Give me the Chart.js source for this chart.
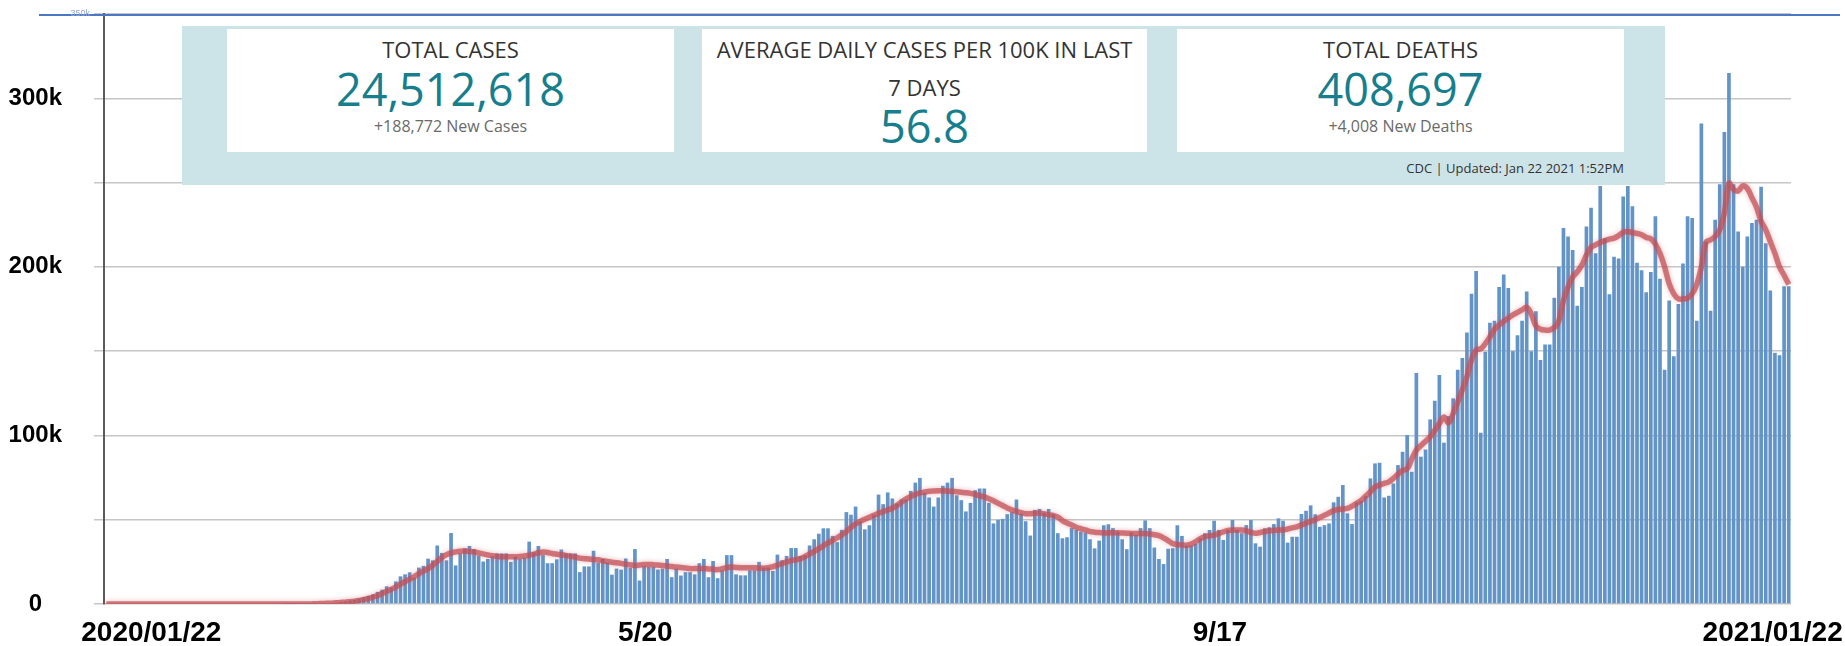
<!DOCTYPE html>
<html>
<head>
<meta charset="utf-8">
<script src="https://cdn.jsdelivr.net/npm/chart.js@4.4.1/dist/chart.umd.min.js"></script>
<style>
  html, body { margin: 0; padding: 0; background: #fff; }
  #wrap { position: relative; width: 1845px; height: 646px; overflow: hidden; font-family: "Open Sans", sans-serif; }
  #chart { position: absolute; left: 0; top: 0; }
  .panel { position: absolute; left: 182px; top: 26px; width: 1483px; height: 159px; background: #cce4e8; }
  .box { position: absolute; top: 3px; height: 123px; background: #fff; }
  .box div { position: absolute; left: 0; right: 0; text-align: center; white-space: nowrap; }
  .title { font-size: 22px; color: #333; line-height: 30px; top: 5px; }
  .big { font-size: 45px; color: #167e8c; line-height: 56px; top: 32px; }
  .sub { font-size: 16px; color: #6a6a6a; line-height: 22px; top: 86px; }
  .days { font-size: 22px; color: #333; line-height: 30px; top: 43px; }
  .big2 { font-size: 45px; color: #167e8c; line-height: 56px; top: 69px; }
  .stamp { position: absolute; right: 41px; top: 133px; font-size: 13px; line-height: 18px; color: #333; }
</style>
</head>
<body>
<div id="wrap">
  <canvas id="chart" width="1845" height="646"></canvas>
  <div class="panel">
    <div class="box" style="left:45px;width:447px">
      <div class="title">TOTAL CASES</div>
      <div class="big">24,512,618</div>
      <div class="sub">+188,772 New Cases</div>
    </div>
    <div class="box" style="left:520px;width:445px">
      <div class="title">AVERAGE DAILY CASES PER 100K IN LAST</div>
      <div class="days">7 DAYS</div>
      <div class="big2">56.8</div>
    </div>
    <div class="box" style="left:995px;width:447px">
      <div class="title">TOTAL DEATHS</div>
      <div class="big">408,697</div>
      <div class="sub">+4,008 New Deaths</div>
    </div>
    <div class="stamp">CDC | Updated: Jan 22 2021 1:52PM</div>
  </div>
</div>
<script>
  "use strict";

  // daily new cases, thousands, one per day from 2020/01/22 to 2021/01/22
  const dailyCases = [
    0,0,0,0,0,0,0,0,0,0, 0,0,0,0,0,0,0,0,0,0, 0,0,0,0,0,0,0,0,0,0, 0,0,0,0,0,0,0,0,0,
    0.02,0.03,0.05,0.07,0.1,0.12,0.15,0.2,0.3,0.45,
    0.6,0.8,1.1,1.5,2.0,2.5,3.2,4.1,4.8,5.7,
    7.2,8.5,10.5,9.7,13.4,16.4,17.6,18.8,15.6,21.6,
    22.6,26.9,25.9,34.7,30.3,25.9,42.1,22.9,30,33,
    34.4,32.6,28.8,25.2,26.7,28.3,30,30,30,25,
    28,26.7,27.5,37,30.7,34.4,29.2,24.2,24.2,26.5,
    32.3,30,30,30,18.9,22.3,22.3,31.6,24.6,26.7,
    24.6,17.4,21,20.4,27,21.6,32.6,13.9,22.5,22,
    22,20.4,21,26.7,15.9,21,16.9,18.9,18.9,17.6,
    24.2,26.7,15.9,25.5,15.3,19.9,29,29,17.6,17,
    17,20,20,25,21.6,21.6,
    19.6,29.3,25.9,28.5,33.2,33.2,28.5,29,34.7,38.4,
    41.7,44.9,44.9,40.4,36.7,44,54.5,53,57.8,49.1,
    44.3,46.7,53,64.9,59.2,66.2,62.6,59.6,62,62,
    67.1,72,74.8,66,63.2,57.8,63.2,70.1,72,74.8,
    64.5,61.6,54.9,60,67.5,68.5,68.5,60,47.8,50,
    50.5,53.3,54.5,62,53.5,49.1,40.6,55.8,56.4,54.2,
    56.4,53.3,42,39,39.6,45,44,43,42.4,38.4,
    33,37.6,46.7,47.3,45,43,38.4,32.5,42.4,41,
    45,49.6,45,33.5,26.7,23.7,32.8,33.1,46.7,40.4,
    34.7,34.7,35.7,
    39,
    42,43.9,49.4,43.9,38,43.9,49.8,43.9,42,46.8,
    49.8,36,34,44.9,45.5,47.4,50.8,49.4,36.4,39.9,
    39.9,53.4,55.3,58.5,53.2,45.8,46.8,47.8,60.3,63.6,
    70.6,53.8,47.4,60.3,61.3,64,74.5,83.4,83.8,63.2,
    64.2,71.5,82.4,90.3,100.2,78.5,137,87.4,91.7,109.5,
    120.6,135.8,95.7,111.5,122,139,146,161,184,197.6,
    101.6,149.6,166.8,168,188,
    195.4,187.5,150,159.4,168,185.4,150,173.7,144.8,154,
    154,181.7,200,223,218,210,177,188,224,235,
    208,248,217,183.7,206,205,241.7,248,236,202.5,
    198,185,197,230,193,139,180,147,178,202,
    230,229,168,285,215,174,228,249,280,315,
    249,221,200,218,226,228,247.5,214,186,149,
    147.5,188.5,188.5
  ];

  // 7-day average line, thousands
  const weeklyAverage = [
    0,0,0,0,0,0,0,0,0,0, 0,0,0,0,0,0,0,0,0,0, 0,0,0,0,0,0,0,0,0,0,
    0,0,0,0,0,0,0,0,0,0, 0,0,0,0,0,
    0.1,0.2,0.3,0.4,0.5,0.7,0.9,1.1,1.4,1.7,
    2.1,2.6,3.3,4.1,5,6.2,7.5,8.8,10.2,11.8,
    13.3,14.8,16.3,18,19.6,21,23,25.2,27.6,29.3,
    30.3,30.9,31.3,31.4,31.2,30.9,30.3,29.7,29.1,28.7,
    28.3,28,28,28,28,28.2,28.5,28.9,29.6,30.4,
    30.9,30.5,30,29.5,29.2,28.8,28.3,27.9,27.2,26.9,
    26.7,26.4,26.2,25.7,25.2,24.8,24.5,24.1,23.6,23.2,
    22.9,23.1,23.4,23.5,23.3,23.1,22.9,22.6,22.2,21.9,
    21.6,21.3,21,21,21,21,20.8,20.6,20.4,20.9,
    21.6,21.9,21.7,21.5,21.5,21.5,21.5,21.4,21.2,21.5,
    22.1,23,24,25,25.7,26.3,26.9,28.2,29.7,31.2,
    32.8,34.5,36.2,37.7,39.3,41,43,45.5,47.5,49,
    50.3,51.5,52.7,53.8,54.8,55.8,56.8,58.5,60.5,62.4,
    63.8,65,65.9,66.4,66.9,67.1,67.2,67.2,67.1,66.9,
    66.6,66.3,66,65.6,65,64.2,63.6,62.5,61.2,59.8,
    58.4,57,55.8,55,54.2,53.6,53.6,53.8,54,53.5,
    53,52.6,51.5,49.5,48.1,46.9,45.5,44.7,43.9,43,
    42.6,42.4,42.2,42.2,42.2,42.2,42.1,42,41.8,41.8,
    41.8,41.8,41.5,41.1,40.6,39.2,37.6,35.8,35.3,35,
    34.9,35.5,37,
    38.8,39.9,40.5,40.9,41.8,42.8,43.6,43.9,43.9,43.9,
    43.4,42.5,41.9,42.4,43,43.5,43.7,43.9,43.9,44.5,
    45.2,45.8,46.8,48,49,50,51.3,52.6,54,55.4,
    56,56.4,56.7,58,59.8,61.5,64,66.6,69.4,70.5,
    71.5,72.4,74.5,77,79.2,80.2,86,91.3,94,96.6,
    99.2,103,107,111,107.5,113,120,127,135,145,
    150.6,151.4,154.5,158.5,163,165.5,
    167.7,169.6,171.5,173,174.5,176,172,165,163,162.5,
    162.5,164,168,180,188,194,197,201,207,211.5,
    213,214.5,215.5,216.5,217,218.5,220.5,221,220.3,219.8,
    219,217.5,216.7,213.5,208,200,190,184,181,181,
    181.5,184,189.6,200,214.6,216,218,222,232,249.6,
    246,245,248,246.5,241,235.4,227,222,215,208,
    200,195,189.6
  ];

  const xTickIndex = [0, 119, 239, 366];
  const xTickText = ["2020/01/22", "5/20", "9/17", "2021/01/22"];
  const xTickNudge = [-25, -8, 15, 54];
  const yTickLabels = { 0: "0", 100: "100k", 200: "200k", 300: "300k" };

  const dayLabels = dailyCases.map((v, i) => {
    const d = new Date(2020, 0, 22 + i);
    return d.getFullYear() + "/" + (d.getMonth() + 1) + "/" + d.getDate();
  });

  const decor = {
    id: "decor",
    beforeDatasetDraw(chart, args) {
      if (args.index === 0) {
        const ctx = chart.ctx;
        ctx.save();
        ctx.shadowColor = "rgba(205,95,100,0.6)";
        ctx.shadowBlur = 5;
      }
    },
    afterDatasetDraw(chart, args) {
      if (args.index === 0) chart.ctx.restore();
    },
    afterDraw(chart) {
      const { ctx, chartArea } = chart;
      const xs = chart.scales.x, ys = chart.scales.y;
      const top = ys.getPixelForValue(350);
      ctx.save();
      // blue rule along the top
      ctx.strokeStyle = "#4a78c4";
      ctx.lineWidth = 2;
      ctx.beginPath();
      ctx.moveTo(39, top + 1);
      ctx.lineTo(1840, top + 1);
      ctx.stroke();
      ctx.font = '9px "Liberation Sans"';
      ctx.fillStyle = "#8ea6d4";
      ctx.textAlign = "right";
      ctx.textBaseline = "middle";
      ctx.fillText("350k", chartArea.left - 14, top);

      // date labels
      ctx.font = 'bold 28px "Liberation Sans"';
      ctx.fillStyle = "#000";
      const last = xTickIndex.length - 1;
      xTickIndex.forEach((idx, k) => {
        const px = xs.getPixelForValue(idx) + xTickNudge[k];
        ctx.textAlign = k === 0 ? "left" : (k === last ? "right" : "center");
        ctx.fillText(xTickText[k], px, 633);
      });
      ctx.restore();
    }
  };

  new Chart(document.getElementById("chart"), {
    type: "bar",
    data: {
      labels: dayLabels,
      datasets: [{
        type: "line",
        label: "7-day average",
        data: weeklyAverage,
        borderColor: "rgba(194,78,84,0.72)",
        borderWidth: 5.5,
        pointRadius: 0,
        tension: 0.4,
        order: 0
      }, {
        label: "Daily cases",
        data: dailyCases,
        backgroundColor: "#6394c8",
        barPercentage: 0.8,
        categoryPercentage: 1,
        order: 1
      }]
    },
    options: {
      responsive: false,
      animation: false,
      layout: { padding: { top: 14, right: 54, left: 0, bottom: 0 } },
      plugins: { legend: { display: false }, tooltip: { enabled: false } },
      scales: {
        x: {
          grid: { display: false },
          border: { display: false },
          ticks: { display: false },
          afterFit: (s) => {
            s.height = 42;
            s.paddingLeft = 0; s.paddingRight = 0;
          }
        },
        y: {
          min: 0,
          max: 350,
          afterFit: (s) => {
            s.width = 104;
            s.paddingTop = 0; s.paddingBottom = 0;
          },
          grid: { color: "#c6c6c6", lineWidth: 1.5, tickLength: 10 },
          border: { color: "#5a5a5a", width: 2 },
          ticks: {
            stepSize: 50,
            padding: 32,
            crossAlign: "center",
            color: "#000",
            font: { family: "Liberation Sans", size: 24, weight: "bold" },
            callback: (v) => yTickLabels[v] ?? ""
          }
        }
      }
    },
    plugins: [decor]
  });
</script>
</body>
</html>
